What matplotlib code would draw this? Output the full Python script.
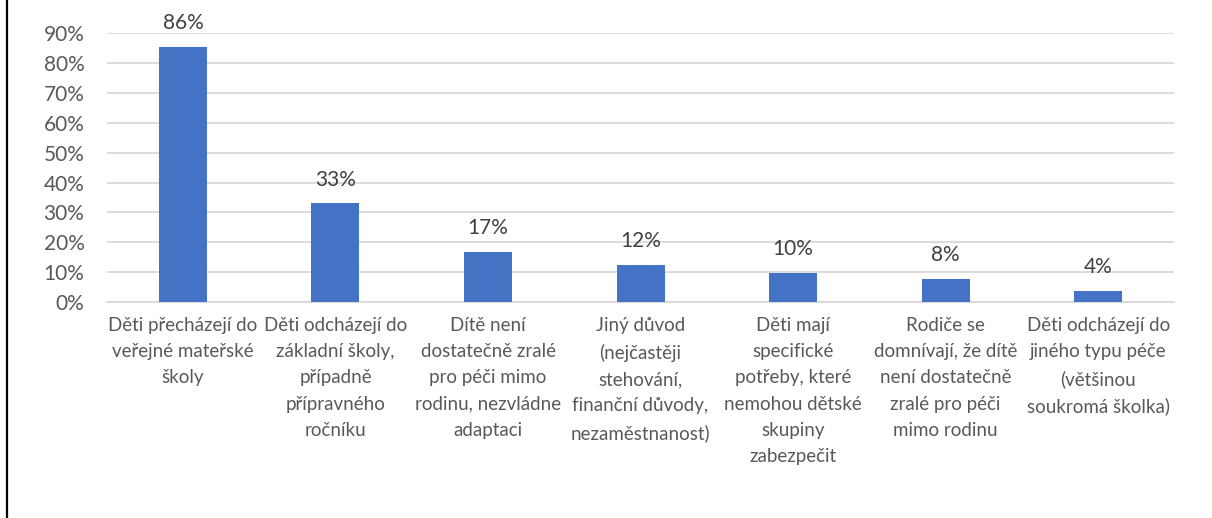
import matplotlib
matplotlib.use('Agg')
import matplotlib.pyplot as plt
from matplotlib.lines import Line2D
from matplotlib.ticker import FuncFormatter

categories = [
    'Děti přecházejí do\nveřejné mateřské\nškoly',
    'Děti odcházejí do\nzákladní školy,\npřípadně\npřípravného\nročníku',
    'Dítě není\ndostatečně zralé\npro péči mimo\nrodinu, nezvládne\nadaptaci',
    'Jiný důvod\n(nejčastěji\nstehování,\nfinanční důvody,\nnezaměstnanost)',
    'Děti mají\nspecifické\npotřeby, které\nnemohou dětské\nskupiny\nzabezpečit',
    'Rodiče se\ndomnívají, že dítě\nnení dostatečně\nzralé pro péči\nmimo rodinu',
    'Děti odcházejí do\njiného typu péče\n(většinou\nsoukromá školka)',
]
values = [0.855, 0.33, 0.168, 0.123, 0.098, 0.078, 0.038]
yticks = [0, 0.1, 0.2, 0.3, 0.4, 0.5, 0.6, 0.7, 0.8, 0.9]

text_color = '#595959'
bar_color = '#4472C4'
plt.rcParams['font.family'] = ['Lato', 'DejaVu Sans']

fig = plt.figure(figsize=(12.12, 5.18), dpi=100)
ax = fig.add_axes([0.088, 0.417, 0.881, 0.519])

x = range(len(categories))
bars = ax.bar(x, values, width=0.315, color=bar_color, zorder=3)

for b, v in zip(bars, values):
    ax.annotate('{:.0f}%'.format(v * 100), (b.get_x() + b.get_width() / 2, v),
                xytext=(0, 10), textcoords='offset points', ha='center', va='bottom',
                fontsize=15, color='#404040', annotation_clip=False)

ax.set_xlim(-0.5, len(categories) - 0.5)
ax.set_ylim(0, 0.9)
ax.set_yticks(yticks)
ax.yaxis.set_major_formatter(FuncFormatter(lambda v, p: '{:.0f}%'.format(v * 100)))
ax.set_xticks(list(x))
ax.set_xticklabels(categories, linespacing=1.65, va='top')
ax.tick_params(axis='y', length=0, pad=16, labelsize=15, labelcolor=text_color)
ax.tick_params(axis='x', length=0, pad=11, labelsize=13.5, labelcolor=text_color)
ax.grid(axis='y', color='#D9D9D9', linewidth=1.3, zorder=0)
for s in ['top', 'right', 'left']:
    ax.spines[s].set_visible(False)
ax.spines['bottom'].set_color('#D9D9D9')
ax.spines['bottom'].set_linewidth(1.3)

fig.add_artist(Line2D([0.0055, 0.0055], [0, 1], color='black', linewidth=1.6, transform=fig.transFigure))

fig.savefig('out.png', dpi=100)
